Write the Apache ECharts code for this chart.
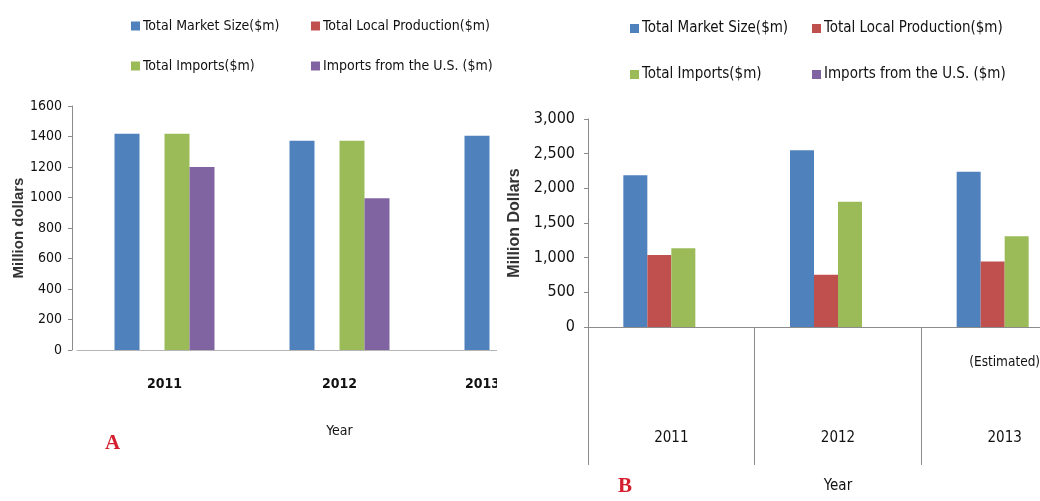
<!DOCTYPE html>
<html>
<head>
<meta charset="utf-8">
<script src="https://cdn.jsdelivr.net/npm/echarts@6/dist/echarts.min.js"></script>
<style>
  body { margin: 0; background: #fff; }
  .clip { position: absolute; top: 0; height: 501px; overflow: hidden; }
  .chart { height: 501px; }
</style>
</head>
<body>
<div class="clip" style="left:0;width:497px"><div id="chartA" class="chart" style="width:620px"></div></div>
<div class="clip" style="left:500px;width:540px"><div id="chartB" class="chart" style="width:600px"></div></div>
<script>
// series names, shared by both panels
const seriesNames = ['Total Market Size($m)', 'Total Local Production($m)', 'Total Imports($m)', 'Imports from the U.S. ($m)']
const colors = ['#4f81bd', '#c0504d', '#9bbb59', '#8064a2']

// panel A
const yearsA = ['2011', '2012', '2013']
const marketA = [1418, 1372, 1405]
const localA = [null, null, null]
const importsA = [1418, 1372, null]
const usA = [1200, 995, null]

// panel B
const yearsB = ['2011', '2012', '2013']
const notesB = ['', '', '(Estimated)']
const marketB = [2190, 2550, 2240]
const localB = [1040, 755, 945]
const importsB = [1135, 1805, 1310]
const usB = [null, null, null]

const textFont = '"Liberation Sans Narrow", "DejaVu Sans Condensed", sans-serif'
const textColor = '#111'
const axisGrey = '#8c8c8c'

function legends(xs, ys, fontSize) {
  return seriesNames.map((name, i) => ({
    data: [name],
    left: xs[i % 2],
    top: ys[Math.floor(i / 2)],
    itemWidth: 9,
    itemHeight: 9,
    itemGap: 0,
    icon: 'rect',
    selectedMode: false,
    textStyle: { fontFamily: textFont, fontSize: fontSize, color: textColor, padding: [0, 0, 0, -2] }
  }))
}

function bars(datas, width) {
  return datas.map((d, i) => ({
    name: seriesNames[i],
    type: 'bar',
    data: d,
    barWidth: width,
    barGap: '0%',
    itemStyle: { color: colors[i] },
    animation: false
  }))
}

// last year label of panel A is pulled left, the panel cuts it off
const catsA = yearsA.map((y, i) => i === yearsA.length - 1
  ? { value: y, textStyle: { padding: [0, 64, 0, 0] } }
  : y)

const chartA = echarts.init(document.getElementById('chartA'))
chartA.setOption({
  color: colors,
  legend: legends([126, 306], [14, 54], 14),
  grid: { left: 77, top: 106, width: 525, height: 244, outerBoundsMode: 'none', containLabel: false },
  xAxis: {
    type: 'category',
    data: catsA,
    name: 'Year',
    nameLocation: 'middle',
    nameGap: 74,
    nameTextStyle: { fontFamily: textFont, fontSize: 14, color: textColor },
    axisLine: { lineStyle: { color: '#b5b5b5' } },
    axisTick: { show: false },
    axisLabel: { fontFamily: textFont, fontSize: 14, color: textColor, margin: 27, fontWeight: 'bold', interval: 0 }
  },
  yAxis: {
    type: 'value',
    min: 0,
    max: 1600,
    interval: 200,
    offset: 5,
    name: 'Million dollars',
    nameLocation: 'middle',
    nameGap: 46,
    nameMoveOverlap: false,
    nameTextStyle: { fontFamily: '"Liberation Sans", Arial, sans-serif', fontWeight: 'bold', fontSize: 15, color: '#333' },
    axisLine: { show: true, lineStyle: { color: axisGrey } },
    axisTick: { show: true, length: 4, lineStyle: { color: axisGrey } },
    splitLine: { show: false },
    axisLabel: { fontFamily: textFont, fontSize: 14, color: textColor, margin: 10, formatter: v => String(v) }
  },
  graphic: [{
    type: 'text',
    left: 105,
    top: 433,
    style: { text: 'A', fill: '#d4202e', font: 'bold 21px "Liberation Serif", "DejaVu Serif", serif' }
  }],
  series: bars([marketA, localA, importsA, usA], 25)
})

const chartB = echarts.init(document.getElementById('chartB'))
chartB.setOption({
  color: colors,
  legend: legends([125, 307], [16, 62], 15),
  grid: { left: 88, top: 119, width: 500, height: 208, outerBoundsMode: 'none', containLabel: false },
  xAxis: {
    type: 'category',
    data: yearsB,
    name: 'Year',
    nameLocation: 'middle',
    nameGap: 152,
    nameTextStyle: { fontFamily: textFont, fontSize: 15, color: textColor },
    axisLine: { lineStyle: { color: axisGrey } },
    axisTick: { show: true, length: 138, interval: 0, lineStyle: { color: axisGrey } },
    axisLabel: {
      fontFamily: textFont,
      fontSize: 15,
      color: textColor,
      margin: 16,
      lineHeight: 38,
      interval: 0,
      formatter: (v, i) => '{note|' + (notesB[i] || ' ') + '}\n \n' + v,
      rich: {
        note: { fontFamily: textFont, fontSize: 13.5, color: textColor, lineHeight: 38 }
      }
    }
  },
  yAxis: {
    type: 'value',
    min: 0,
    max: 3000,
    interval: 500,
    name: 'Million Dollars',
    nameLocation: 'middle',
    nameGap: 63,
    nameTextStyle: { fontFamily: '"Liberation Sans", Arial, sans-serif', fontWeight: 'bold', fontSize: 16, color: '#333' },
    axisLine: { show: true, lineStyle: { color: axisGrey } },
    axisTick: { show: true, length: 4, lineStyle: { color: axisGrey } },
    splitLine: { show: false },
    axisLabel: {
      fontFamily: textFont,
      fontSize: 16,
      color: textColor,
      margin: 13,
      formatter: v => v.toLocaleString('en-US')
    }
  },
  graphic: [{
    type: 'text',
    left: 118,
    top: 476,
    style: { text: 'B', fill: '#d4202e', font: 'bold 21px "Liberation Serif", "DejaVu Serif", serif' }
  }],
  series: bars([marketB, localB, importsB, usB], 24)
})
</script>
</body>
</html>
